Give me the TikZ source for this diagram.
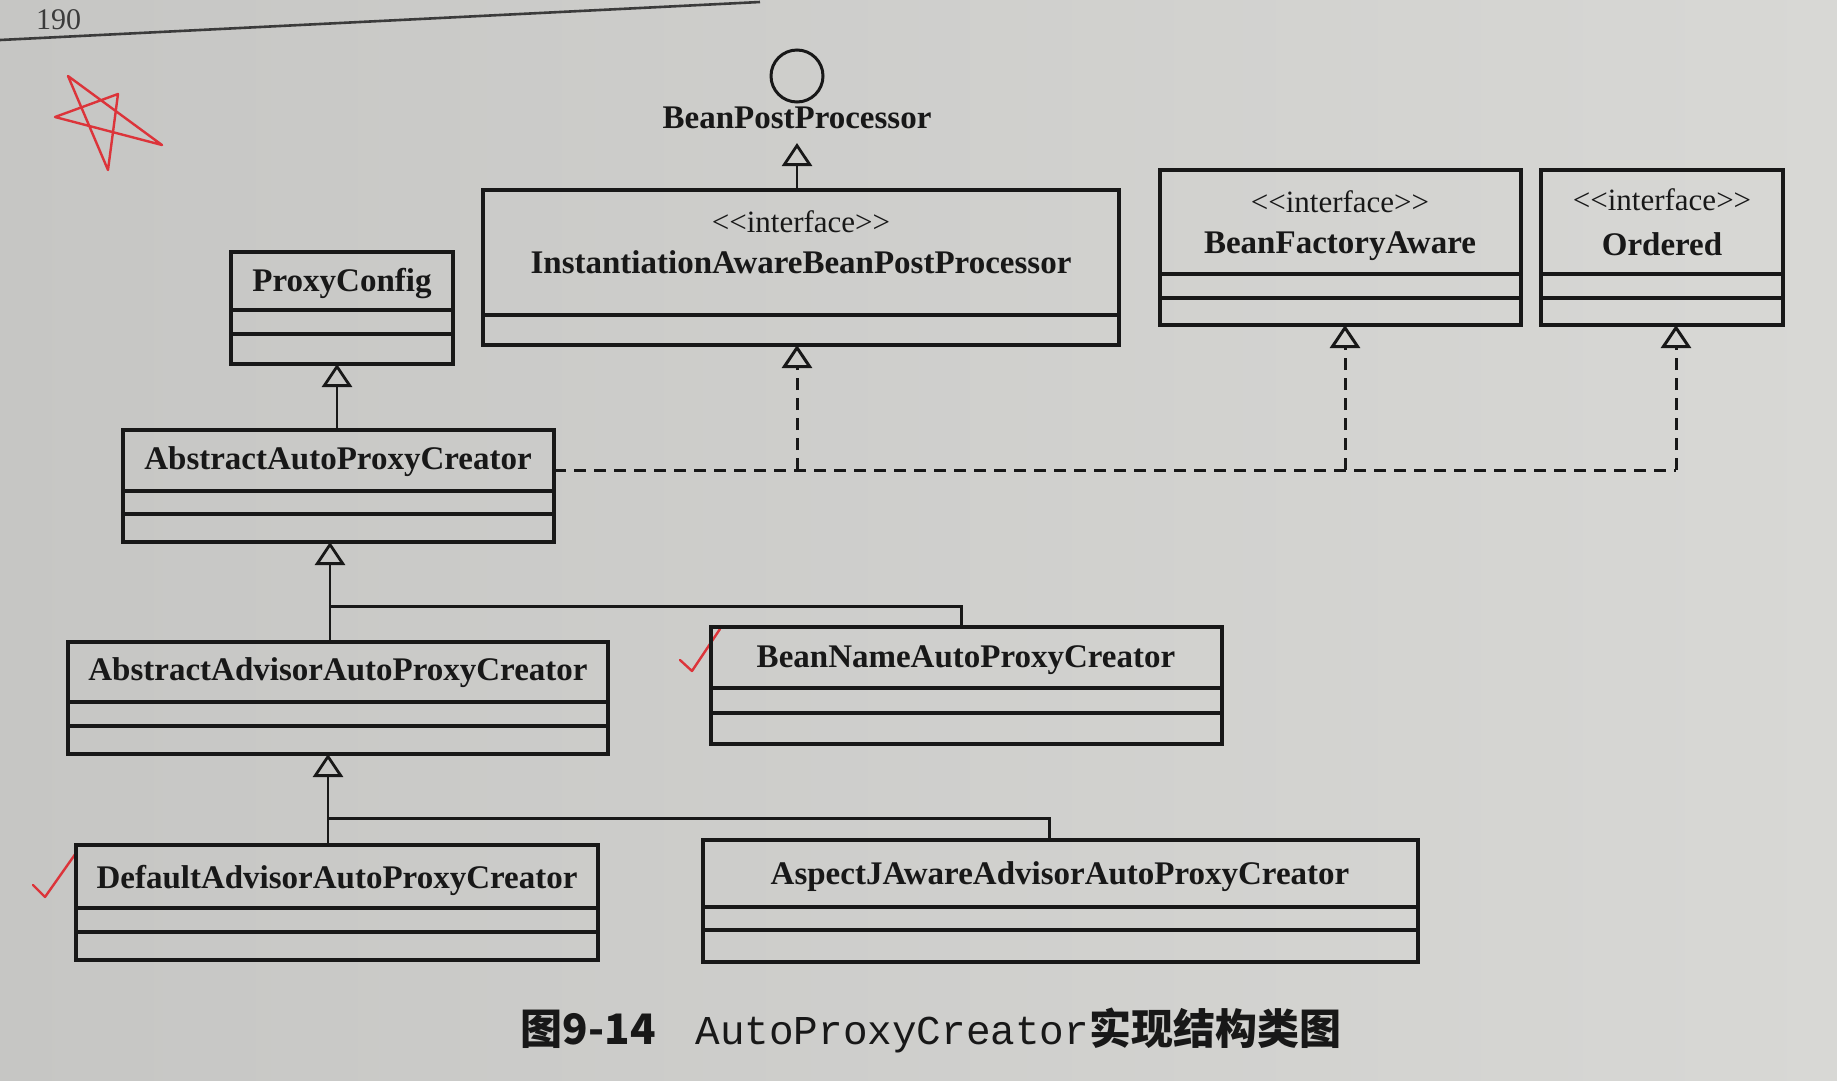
\documentclass[tikz,border=0pt]{standalone}
\usepackage{fontspec}
\setmainfont{Liberation Serif}
\newfontfamily\capmono{Liberation Mono}
\newfontfamily\cjk{Noto Sans CJK SC}
\usetikzlibrary{arrows.meta,calc}
\definecolor{paperL}{RGB}{198,198,196}
\definecolor{paperR}{RGB}{216,216,213}
\definecolor{ink}{RGB}{24,24,24}
\definecolor{pen}{RGB}{220,52,58}
\newcommand\classbox[5]{\node[cls, anchor=north west, minimum width={(#4)-(#2)}, minimum height={(#5)-(#3)}] (#1) at (#2,#3) {};}
\begin{document}
\begin{tikzpicture}[x=1pt,y=-1pt,
  cls/.style={draw=ink, line width=3.6pt, rectangle, inner sep=0pt, outer sep=0pt},
  sepl/.style={draw=ink, line width=3.2pt},
  nm/.style={font=\fontsize{33}{36}\selectfont\bfseries, text=ink, inner sep=0pt},
  stereo/.style={font=\fontsize{31}{34}\selectfont, text=ink, inner sep=0pt},
  gen/.style={draw=ink, line width=2.8pt, -{Triangle[open, length=23pt, width=30pt]}},
  ln/.style={draw=ink, line width=3pt},
  dsh/.style={draw=ink, line width=3pt, dash pattern=on 12pt off 8pt},
  dgen/.style={dsh, -{Triangle[open, length=23pt, width=30pt]}},
  redpen/.style={draw=pen, line width=2.4pt, line cap=round, line join=round}
]
\useasboundingbox (0,0) rectangle (1837,1080);
\shade[left color=paperL, right color=paperR] (0,0) rectangle (1837,1080);

% page header
\node[anchor=base west, font=\fontsize{30}{32}\selectfont, text=ink!85, inner sep=0pt] (pg) at (36,29) {190};
\draw[draw=ink!85, line width=2.6pt] (0,40) -- (760,2);

% red pen marks
\draw[redpen] (118,94) -- (108,170) -- (68,76) -- (162,145) -- (55,117) -- cycle;
\draw[redpen] (680,660) -- (692,671) -- (720,629);
\draw[redpen] (33,885) -- (45,897) -- (76,853);

% BeanPostProcessor lollipop
\node[circle, draw=ink, line width=3pt, minimum size=52pt, inner sep=0pt] (bpp) at (797,76) {};
\node[nm] (bppl) at (797,118) {BeanPostProcessor};
\coordinate (bpptip) at (797,143);

% InstantiationAwareBeanPostProcessor
\classbox{iabpp}{483}{190}{1119}{345}
\draw[sepl] (483,315) -- (1119,315);
\node[stereo] (iabpps) at (801,222) {<{}<interface>{}>};
\node[nm] (iabppn) at (801,262) {InstantiationAwareBeanPostProcessor};

% BeanFactoryAware
\classbox{bfa}{1160}{170}{1521}{325}
\draw[sepl] (1160,274) -- (1521,274);
\draw[sepl] (1160,298) -- (1521,298);
\node[stereo] (bfas) at (1340,202) {<{}<interface>{}>};
\node[nm] (bfan) at (1340,246) {BeanFactoryAware};

% Ordered
\classbox{ord}{1541}{170}{1783}{325}
\draw[sepl] (1541,274) -- (1783,274);
\draw[sepl] (1541,298) -- (1783,298);
\node[stereo] (ords) at (1662,200) {<{}<interface>{}>};
\node[nm] (ordn) at (1662,244) {Ordered};

% ProxyConfig
\classbox{proxy}{231}{252}{453}{364}
\draw[sepl] (231,310) -- (453,310);
\draw[sepl] (231,334) -- (453,334);
\node[nm] (proxyn) at (342,284) {ProxyConfig};

% AbstractAutoProxyCreator
\classbox{aapc}{123}{430}{554}{542}
\draw[sepl] (123,491) -- (554,491);
\draw[sepl] (123,514) -- (554,514);
\node[nm] (aapcn) at (338,462) {AbstractAutoProxyCreator};

% AbstractAdvisorAutoProxyCreator
\classbox{aaapc}{68}{642}{608}{754}
\draw[sepl] (68,702) -- (608,702);
\draw[sepl] (68,726) -- (608,726);
\node[nm] (aaapcn) at (338,673) {AbstractAdvisorAutoProxyCreator};

% BeanNameAutoProxyCreator
\classbox{bn}{711}{627}{1222}{744}
\draw[sepl] (711,688) -- (1222,688);
\draw[sepl] (711,713) -- (1222,713);
\node[nm] (bnn) at (966,660) {BeanNameAutoProxyCreator};

% DefaultAdvisorAutoProxyCreator
\classbox{def}{76}{845}{598}{960}
\draw[sepl] (76,908) -- (598,908);
\draw[sepl] (76,932) -- (598,932);
\node[nm] (defn) at (337,880) {DefaultAdvisorAutoProxyCreator};

% AspectJAwareAdvisorAutoProxyCreator
\classbox{asp}{703}{840}{1418}{962}
\draw[sepl] (703,907) -- (1418,907);
\draw[sepl] (703,930) -- (1418,930);
\node[nm] (aspn) at (1060,877) {AspectJAwareAdvisorAutoProxyCreator};

% generalisation: IABPP -> BeanPostProcessor
\draw[gen] (iabpp.north -| bpptip) -- (bpptip);

% generalisation: AAPC -> ProxyConfig
\coordinate (xpc) at (337,0);
\draw[gen] (aapc.north -| xpc) -- (proxy.south -| xpc);

% realisation (dashed)
\coordinate (dy) at (0,470);
\coordinate (x1) at (797,0);
\coordinate (x2) at (1345,0);
\coordinate (x3) at (1676,0);
\draw[dsh] (aapc.east |- dy) -- (dy -| x3);
\draw[dgen] (dy -| x1) -- (iabpp.south -| x1);
\draw[dgen] (dy -| x2) -- (bfa.south -| x2);
\draw[dgen] (dy -| x3) -- (ord.south -| x3);

% generalisation: AAAPC, BeanName -> AAPC
\coordinate (j1) at (330,606);
\coordinate (j1r) at (961,0);
\draw[gen] (aaapc.north -| j1) -- (aapc.south -| j1);
\draw[ln] (j1) -| (bn.north -| j1r);

% generalisation: Default, AspectJ -> AAAPC
\coordinate (j2) at (328,818);
\coordinate (j2r) at (1049,0);
\draw[gen] (def.north -| j2) -- (aaapc.south -| j2);
\draw[ln] (j2) -| (asp.north -| j2r);

% caption
\node[inner sep=0pt, text=ink] (cap) at (931,1030) {\cjk\bfseries\fontsize{42}{46}\selectfont 图9-14\hspace{40pt}{\capmono\mdseries\fontsize{41}{46}\selectfont AutoProxyCreator}实现结构类图};
\end{tikzpicture}
\end{document}
